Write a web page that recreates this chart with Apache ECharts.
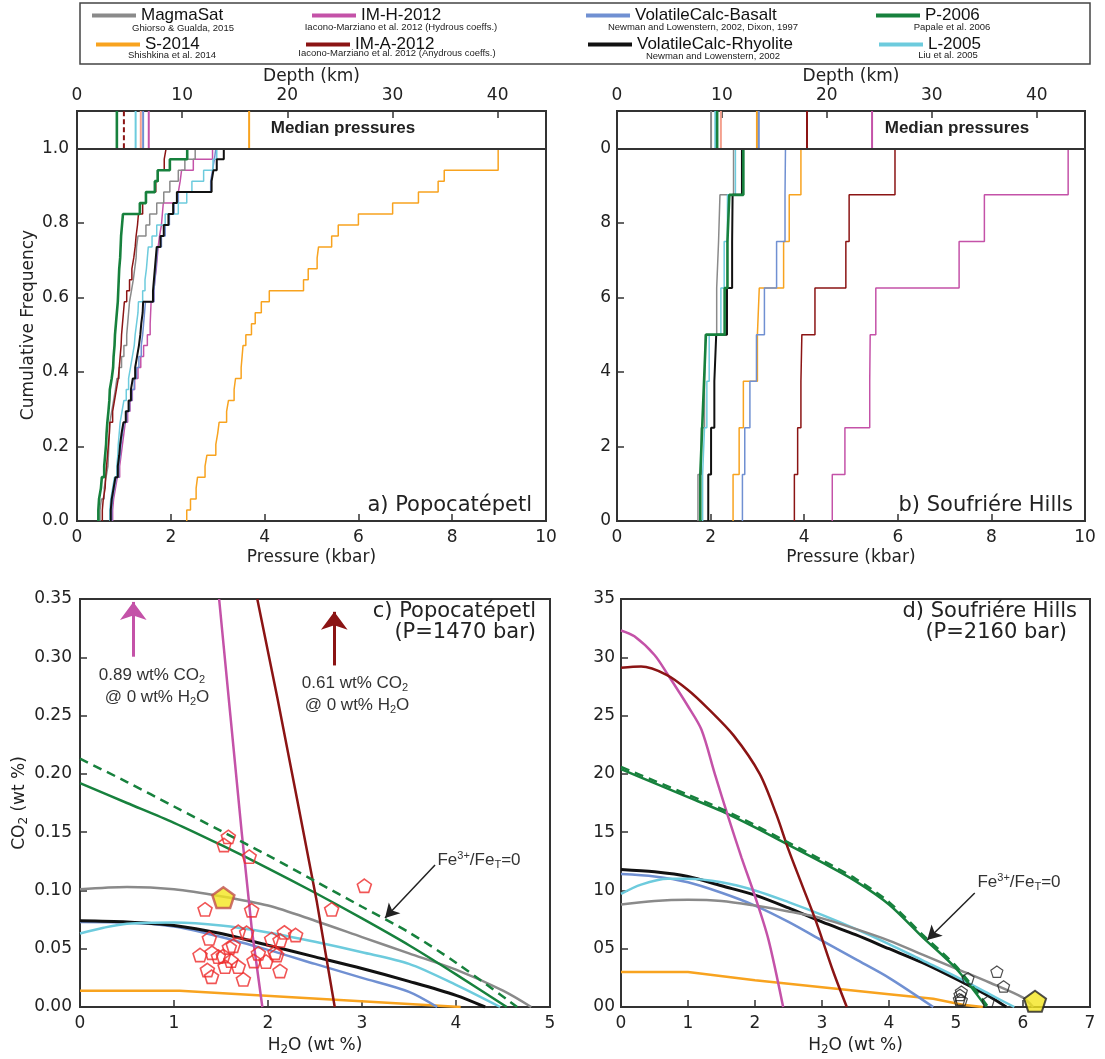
<!DOCTYPE html>
<html><head><meta charset="utf-8">
<script src="https://cdn.jsdelivr.net/npm/echarts/dist/echarts.min.js"></script>
<style>html,body{margin:0;padding:0;background:#fff}#c{width:1105px;height:1059px}</style>
</head><body><div id="c"></div>
<script>
// ---------------- DATA ----------------
const models = ['MagmaSat','IM-H-2012','VolatileCalc-Basalt','P-2006','S-2014','IM-A-2012','VolatileCalc-Rhyolite','L-2005'];
const citations = ['Ghiorso & Gualda, 2015','Iacono-Marziano et al. 2012 (Hydrous coeffs.)','Newman and Lowenstern, 2002, Dixon, 1997','Papale et al. 2006','Shishkina et al. 2014','Iacono-Marziano et al. 2012 (Anydrous coeffs.)','Newman and Lowenstern, 2002','Liu et al. 2005'];
const modelColors = ['#8a8a8a','#c452a8','#7090d2','#17813d','#f8a31f','#8b1414','#111111','#6dcbdd'];

// Panel a: Popocatepetl saturation pressures (kbar), sorted, 34 inclusions
const popoMagmaSat = [0.49,0.52,0.58,0.62,0.66,0.67,0.68,0.69,0.70,0.74,0.78,0.82,0.85,0.90,0.95,1.00,1.06,1.08,1.10,1.12,1.16,1.20,1.23,1.26,1.27,1.30,1.47,1.55,1.70,1.85,1.98,2.16,2.30,2.52];
const popoIMH = [0.76,0.78,0.82,0.86,0.91,0.94,0.97,1.00,1.03,1.08,1.13,1.18,1.23,1.30,1.36,1.42,1.50,1.56,1.57,1.58,1.64,1.66,1.69,1.71,1.73,1.76,1.80,1.82,1.84,2.16,2.20,2.23,2.48,2.89];
const popoVCBasalt = [0.74,0.76,0.80,0.84,0.89,0.92,0.94,0.97,1.01,1.06,1.12,1.17,1.22,1.27,1.32,1.37,1.40,1.42,1.44,1.46,1.64,1.66,1.68,1.70,1.72,1.80,1.88,1.97,2.07,2.16,2.85,2.89,2.93,2.96];
const popoP2006 = [0.455,0.47,0.51,0.53,0.58,0.60,0.62,0.63,0.647,0.67,0.69,0.70,0.74,0.77,0.78,0.80,0.81,0.83,0.85,0.87,0.88,0.89,0.90,0.92,0.93,0.94,0.96,0.98,1.34,1.47,1.66,1.72,1.98,2.35];
const popoS2014 = [2.34,2.42,2.54,2.57,2.73,2.77,2.96,3.00,3.03,3.19,3.23,3.35,3.38,3.50,3.52,3.54,3.60,3.72,3.80,3.93,4.10,4.83,4.93,5.12,5.15,5.43,5.57,6.00,6.73,7.28,7.70,7.83,8.98,8.98];
const popoIMA = [0.54,0.56,0.60,0.61,0.63,0.65,0.67,0.69,0.70,0.76,0.80,0.84,0.88,0.90,0.92,0.94,0.95,0.97,0.99,1.01,1.06,1.12,1.17,1.21,1.24,1.26,1.29,1.31,1.40,1.47,1.68,1.73,1.86,1.90];
const popoVCRhyolite = [0.72,0.74,0.78,0.82,0.87,0.90,0.92,0.95,0.99,1.04,1.10,1.15,1.19,1.24,1.28,1.32,1.35,1.37,1.40,1.41,1.62,1.64,1.66,1.68,1.70,1.78,1.85,1.95,2.05,2.13,2.87,2.91,2.98,3.13];
const popoL2005 = [0.70,0.72,0.76,0.80,0.85,0.87,0.88,0.90,0.92,0.96,1.00,1.05,1.10,1.14,1.18,1.22,1.24,1.27,1.30,1.31,1.40,1.45,1.48,1.50,1.52,1.60,1.70,1.88,2.16,2.34,2.45,2.70,2.90,2.98];

// Panel b: Soufriere Hills saturation pressures (kbar), sorted, 8 inclusions
const soufMagmaSat = [1.73,1.80,1.87,1.89,2.13,2.17,2.20,2.49];
const soufIMH = [4.60,4.87,5.40,5.41,5.53,7.31,7.85,9.64];
const soufVCBasalt = [2.68,2.73,2.84,2.98,3.15,3.41,3.59,3.60];
const soufP2006 = [1.78,1.82,1.86,1.90,2.30,2.36,2.40,2.70];
const soufS2014 = [2.48,2.61,2.70,3.00,3.04,3.56,3.68,3.93];
const soufIMA = [3.79,3.86,3.93,3.95,4.23,4.89,4.96,5.94];
const soufVCRhyolite = [1.95,2.01,2.08,2.12,2.35,2.46,2.47,2.67];
const soufL2005 = [1.83,1.87,1.92,1.97,2.22,2.29,2.36,2.53];

// Median pressures (kbar) shown in the top strips
const medianPopoModels = ['P-2006','IM-A-2012','L-2005','VolatileCalc-Rhyolite','VolatileCalc-Basalt','IM-H-2012','S-2014'];
const medianPopoValues = [0.85,1.00,1.25,1.36,1.41,1.53,3.67];
const medianSoufModels = ['MagmaSat','L-2005','P-2006','VolatileCalc-Rhyolite','S-2014','VolatileCalc-Basalt','IM-A-2012','IM-H-2012'];
const medianSoufValues = [2.01,2.10,2.14,2.22,2.99,3.03,4.06,5.45];

// Panel c: isobars at 1470 bar, [H2O wt%, CO2 wt%]
const popoIsoMagmaSat = [[0,0.101],[0.5,0.103],[1,0.101],[1.5,0.095],[2,0.087],[2.5,0.074],[3,0.060],[3.5,0.046],[4,0.032],[4.5,0.014],[4.8,0]];
const popoIsoIMH = [[1.48,0.35],[1.60,0.25],[1.72,0.15],[1.83,0.065],[1.94,0]];
const popoIsoVCBasalt = [[0,0.073],[0.5,0.0725],[1,0.069],[1.5,0.060],[2,0.049],[2.5,0.037],[3,0.025],[3.5,0.013],[3.8,0]];
const popoIsoP2006 = [[0,0.192],[0.5,0.175],[1,0.158],[1.5,0.139],[2,0.119],[2.5,0.098],[3,0.076],[3.5,0.053],[4,0.028],[4.54,0]];
const popoIsoP2006Fe0 = [[0,0.213],[0.5,0.193],[1,0.172],[1.5,0.151],[2,0.130],[2.5,0.108],[3,0.086],[3.5,0.064],[4,0.038],[4.65,0]];
const popoIsoS2014 = [[0,0.014],[1.06,0.014],[4.05,0]];
const popoIsoIMA = [[1.886,0.35],[2.10,0.265],[2.31,0.178],[2.52,0.09],[2.71,0]];
const popoIsoVCRhyolite = [[0,0.074],[0.5,0.073],[1,0.070],[1.5,0.063],[2,0.053],[2.5,0.043],[3,0.033],[3.5,0.022],[4,0.010],[4.31,0]];
const popoIsoL2005 = [[0,0.063],[0.25,0.068],[0.5,0.0715],[1,0.0725],[1.5,0.070],[2,0.064],[2.5,0.056],[3,0.047],[3.5,0.037],[4,0.019],[4.47,0]];
const popoMeltH2O = [1.578,1.532,1.80,3.025,2.677,1.826,1.33,1.684,1.773,1.376,2.174,2.294,2.039,2.128,1.63,1.589,1.277,1.404,1.472,1.525,1.606,1.897,2.074,2.092,1.543,1.684,1.851,1.979,1.355,1.40,1.738,2.128];
const popoMeltCO2 = [0.146,0.139,0.129,0.104,0.0838,0.083,0.0838,0.0646,0.0637,0.0589,0.064,0.0618,0.0583,0.0572,0.0526,0.0511,0.0446,0.0466,0.0432,0.0438,0.0398,0.046,0.0466,0.0446,0.0346,0.0346,0.0395,0.039,0.0318,0.026,0.0237,0.0309];
const popoMedianMI = [1.525,0.0938];

// Panel d: isobars at 2160 bar
const soufIsoMagmaSat = [[0,0.088],[0.5,0.091],[1,0.092],[1.5,0.091],[2,0.087],[2.5,0.082],[3,0.076],[3.5,0.067],[4,0.057],[4.5,0.045],[5,0.033],[5.5,0.021],[6,0.008],[6.15,0]];
const soufIsoIMH = [[0,0.323],[0.2,0.318],[0.5,0.302],[0.7,0.285],[1.0,0.258],[1.2,0.238],[1.4,0.200],[1.6,0.163],[1.8,0.128],[2.0,0.095],[2.2,0.058],[2.42,0]];
const soufIsoVCBasalt = [[0,0.114],[0.5,0.112],[1,0.107],[1.5,0.098],[2,0.087],[2.5,0.073],[3,0.057],[3.5,0.041],[4,0.025],[4.66,0]];
const soufIsoP2006 = [[0,0.204],[0.5,0.192],[1,0.180],[1.5,0.168],[2,0.154],[2.5,0.139],[3,0.124],[3.5,0.108],[4,0.088],[4.5,0.060],[5,0.033],[5.45,0]];
const soufIsoP2006Fe0 = [[0,0.206],[0.5,0.194],[1,0.182],[1.5,0.170],[2,0.156],[2.5,0.141],[3,0.126],[3.5,0.110],[4,0.090],[4.5,0.062],[5,0.035],[5.48,0]];
const soufIsoS2014 = [[0,0.030],[1,0.030],[2,0.023],[3,0.017],[4,0.011],[4.66,0.007],[5.1,0.002],[5.4,0]];
const soufIsoIMA = [[0,0.291],[0.3,0.292],[0.68,0.285],[1.0,0.272],[1.3,0.256],[1.68,0.233],[2.07,0.200],[2.32,0.165],[2.5,0.135],[2.7,0.105],[2.92,0.072],[3.17,0.030],[3.37,0]];
const soufIsoVCRhyolite = [[0,0.118],[0.5,0.116],[1,0.112],[1.5,0.104],[2,0.096],[2.5,0.085],[3,0.073],[3.5,0.062],[4,0.050],[4.5,0.038],[5,0.024],[5.5,0.009],[5.75,0]];
const soufIsoL2005 = [[0,0.097],[0.3,0.105],[0.7,0.110],[1,0.110],[1.5,0.107],[2,0.100],[2.5,0.090],[3,0.079],[3.5,0.067],[4,0.054],[4.5,0.040],[5,0.026],[5.5,0.011],[5.87,0]];
const soufMeltH2O = [5.61,5.71,5.18,5.08,5.06,5.05,5.08,5.48];
const soufMeltCO2 = [0.0303,0.0177,0.0246,0.0132,0.0104,0.0066,0.006,0.0046];
const soufMedianMI = [6.18,0.005];

// Axis tick values
const pressureTicks = [0,2,4,6,8,10];
const depthTicks = [0,10,20,30,40];
const freqTicks = [0,0.2,0.4,0.6,0.8,1.0];

// ---------------- CHART ----------------
const FONT = "'DejaVu Sans', sans-serif";
const ARIAL = "'Liberation Sans', Arial, sans-serif";
const NARROW = "'Liberation Sans Narrow', 'Liberation Sans', Arial, sans-serif";
const colorOf = m => modelColors[models.indexOf(m)];
const AX = '#333';

const chart = echarts.init(document.getElementById('c'), null, {renderer:'canvas', width:1105, height:1059});

function baseAxis(extra){
  return Object.assign({
    type:'value', axisLine:{show:false},
    axisTick:{show:true, inside:true, length:7, lineStyle:{color:AX, width:1.5}},
    splitLine:{show:false},
    axisLabel:{color:'#222', fontSize:17, fontFamily:FONT, margin:8},
    nameTextStyle:{color:'#222', fontSize:17, fontFamily:FONT}
  }, extra);
}
const richD = {n:{fontSize:17,fontFamily:FONT,color:'#222'}, sub:{fontSize:12,fontFamily:FONT,color:'#222',padding:[9,0,0,0]}};

const grids = [
  {left:77, top:111, width:469, height:410},
  {left:617, top:111, width:468, height:410},
  {left:80, top:599, width:470, height:408},
  {left:621, top:599, width:469, height:408}
].map(g => Object.assign(g, {show:true, borderColor:AX, borderWidth:2, backgroundColor:'transparent', containLabel:false}));

const pMax = pressureTicks[pressureTicks.length-1];
const depthMax = 44.6;
const xAxes = [
  baseAxis({gridIndex:0, min:0, max:pMax, interval:2, name:'Pressure (kbar)', nameLocation:'middle', nameGap:28}),
  baseAxis({gridIndex:0, position:'top', min:0, max:depthMax, interval:10, name:'Depth (km)', nameLocation:'middle', nameGap:26,
            axisLabel:{color:'#222', fontSize:17, fontFamily:FONT, margin:7, formatter:v => depthTicks.includes(v) ? String(v) : ''}}),
  baseAxis({gridIndex:1, min:0, max:pMax, interval:2, name:'Pressure (kbar)', nameLocation:'middle', nameGap:28}),
  baseAxis({gridIndex:1, position:'top', min:0, max:depthMax, interval:10, name:'Depth (km)', nameLocation:'middle', nameGap:26,
            axisLabel:{color:'#222', fontSize:17, fontFamily:FONT, margin:7, formatter:v => depthTicks.includes(v) ? String(v) : ''}}),
  baseAxis({gridIndex:2, min:0, max:5, interval:1, name:'{n|H}{sub|2}{n|O (wt %)}', nameLocation:'middle', nameGap:28,
            nameTextStyle:{rich:richD}}),
  baseAxis({gridIndex:3, min:0, max:7, interval:1, name:'{n|H}{sub|2}{n|O (wt %)}', nameLocation:'middle', nameGap:28,
            nameTextStyle:{rich:richD}})
];
const yAxes = [
  baseAxis({gridIndex:0, min:0, max:1.1, interval:0.2, name:'Cumulative Frequency', nameLocation:'middle', nameGap:40,
            nameTextStyle:{color:'#222', fontSize:17, fontFamily:FONT, padding:[0,18,0,0]},
            axisLabel:{color:'#222', fontSize:17, fontFamily:FONT, margin:8, formatter:v => v > 1.01 ? '' : v.toFixed(1)}}),
  baseAxis({gridIndex:1, min:0, max:1.1, interval:0.2,
            axisLabel:{color:'#222', fontSize:17, fontFamily:FONT, margin:6, formatter:v => v > 1.01 ? '' : v.toFixed(1).slice(-1)}}),
  baseAxis({gridIndex:2, min:0, max:0.35, interval:0.05, name:'{n|CO}{sub|2}{n| (wt %)}', nameLocation:'middle', nameGap:50,
            nameTextStyle:{rich:richD},
            axisLabel:{color:'#222', fontSize:17, fontFamily:FONT, margin:8, formatter:v => v.toFixed(2)}}),
  baseAxis({gridIndex:3, min:0, max:0.35, interval:0.05,
            axisLabel:{color:'#222', fontSize:17, fontFamily:FONT, margin:6, formatter:v => v.toFixed(2).slice(-2)}})
];

const series = [];
function cdf(arr){ const n = arr.length; const d = [[arr[0],0]]; arr.forEach((v,i)=>d.push([v,(i+1)/n])); return d; }
function widthAB(m){ return m==='P-2006' ? 2.6 : (m==='VolatileCalc-Rhyolite' ? 2 : 1.5); }

const popoSets = {'MagmaSat':popoMagmaSat,'IM-H-2012':popoIMH,'VolatileCalc-Basalt':popoVCBasalt,'P-2006':popoP2006,'S-2014':popoS2014,'IM-A-2012':popoIMA,'VolatileCalc-Rhyolite':popoVCRhyolite,'L-2005':popoL2005};
const soufSets = {'MagmaSat':soufMagmaSat,'IM-H-2012':soufIMH,'VolatileCalc-Basalt':soufVCBasalt,'P-2006':soufP2006,'S-2014':soufS2014,'IM-A-2012':soufIMA,'VolatileCalc-Rhyolite':soufVCRhyolite,'L-2005':soufL2005};
const drawOrder = ['S-2014','IM-H-2012','VolatileCalc-Basalt','MagmaSat','L-2005','VolatileCalc-Rhyolite','IM-A-2012','P-2006'];

[[popoSets,0],[soufSets,1]].forEach(([sets,gi])=>{
  drawOrder.forEach(m=>{
    const s = {type:'line', name:m, xAxisIndex:gi*2, yAxisIndex:gi, data:cdf(sets[m]), step:'end',
      showSymbol:false, symbol:'none', color:colorOf(m), lineStyle:{color:colorOf(m), width:widthAB(m)}, z:3};
    if (m==='S-2014') {
      s.markLine = {silent:true, symbol:['none','none'], label:{show:false}, animation:false,
        lineStyle:{color:AX, width:2, type:'solid'}, data:[{yAxis:1}]};
    }
    series.push(s);
  });
});

// median strips
function medianSeries(ms, vs, gi){
  ms.forEach((m,i)=>{
    const v = vs[i];
    let col = colorOf(m), type = 'solid';
    if (m==='VolatileCalc-Rhyolite') col = '#f4a08e';
    if (gi===0 && m==='IM-A-2012') type = [5,3];
    series.push({type:'line', name:m+' median', xAxisIndex:gi*2, yAxisIndex:gi, data:[[v,1.0],[v,1.1]],
      showSymbol:false, symbol:'none', lineStyle:{color:col, width: m==='P-2006' ? 2.6 : 2, type}, z:4});
  });
}
medianSeries(medianPopoModels, medianPopoValues, 0);
medianSeries(medianSoufModels, medianSoufValues, 1);

// isobars
const popoIso = {'MagmaSat':popoIsoMagmaSat,'IM-H-2012':popoIsoIMH,'VolatileCalc-Basalt':popoIsoVCBasalt,'P-2006':popoIsoP2006,'S-2014':popoIsoS2014,'IM-A-2012':popoIsoIMA,'VolatileCalc-Rhyolite':popoIsoVCRhyolite,'L-2005':popoIsoL2005};
const soufIso = {'MagmaSat':soufIsoMagmaSat,'IM-H-2012':soufIsoIMH,'VolatileCalc-Basalt':soufIsoVCBasalt,'P-2006':soufIsoP2006,'S-2014':soufIsoS2014,'IM-A-2012':soufIsoIMA,'VolatileCalc-Rhyolite':soufIsoVCRhyolite,'L-2005':soufIsoL2005};
const isoOrder = ['S-2014','VolatileCalc-Basalt','VolatileCalc-Rhyolite','L-2005','MagmaSat','P-2006','IM-H-2012','IM-A-2012'];
const pentagon = 'path://M0,-1 L0.951,-0.309 L0.588,0.809 L-0.588,0.809 L-0.951,-0.309 Z';

function smoothFor(m, gi){
  if (m==='S-2014') return false;
  if (gi===2 && (m==='IM-H-2012' || m==='IM-A-2012')) return false;
  return 0.3;
}
[[popoIso,popoIsoP2006Fe0,2],[soufIso,soufIsoP2006Fe0,3]].forEach(([iso,fe0,gi])=>{
  isoOrder.forEach(m=>{
    series.push({type:'line', name:m, xAxisIndex:gi+2, yAxisIndex:gi, data:iso[m],
      smooth: smoothFor(m, gi),
      showSymbol:false, symbol:'none', color:colorOf(m),
      lineStyle:{color:colorOf(m), width: m==='VolatileCalc-Rhyolite' ? 3 : 2.5}, z:3});
  });
  series.push({type:'line', name:'P-2006 (Fe3+/FeT=0)', xAxisIndex:gi+2, yAxisIndex:gi, data:fe0,
    smooth:0.3, showSymbol:false, symbol:'none',
    lineStyle:{color:colorOf('P-2006'), width:2.5, type:[9,6]}, z:3});
});

// melt inclusions
series.push({type:'scatter', name:'Popocatépetl melt inclusions', xAxisIndex:4, yAxisIndex:2,
  data:popoMeltH2O.map((h,i)=>[h,popoMeltCO2[i]]), symbol:pentagon, symbolSize:14, symbolKeepAspect:true,
  itemStyle:{color:'rgba(255,255,255,0)', borderColor:'#ee2a2a', borderWidth:1.6}, z:5});
series.push({type:'scatter', name:'Popocatépetl median inclusion', xAxisIndex:4, yAxisIndex:2,
  data:[popoMedianMI], symbol:pentagon, symbolSize:22, symbolKeepAspect:true,
  itemStyle:{color:'#f4e61e', borderColor:'#c0504d', borderWidth:2.5}, z:6});
series.push({type:'scatter', name:'Soufrière Hills melt inclusions', xAxisIndex:5, yAxisIndex:3,
  data:soufMeltH2O.map((h,i)=>[h,soufMeltCO2[i]]), symbol:pentagon, symbolSize:12, symbolKeepAspect:true,
  itemStyle:{color:'rgba(255,255,255,0)', borderColor:'#222', borderWidth:1.2}, z:5});
series.push({type:'scatter', name:'Soufrière Hills median inclusion', xAxisIndex:5, yAxisIndex:3,
  data:[soufMedianMI], symbol:pentagon, symbolSize:22, symbolKeepAspect:true,
  itemStyle:{color:'#f4e61e', borderColor:'#222', borderWidth:2}, z:6});

// annotation arrows (data coordinates)
function arrow(from, to, color, width, size){
  return [{coord:from, symbol:'none', lineStyle:{color, width, type:'solid'}, itemStyle:{color}},
          {coord:to, symbol:'arrow', symbolSize:size, lineStyle:{color, width, type:'solid'}, itemStyle:{color}}];
}
series.push({type:'line', name:'annotations c', xAxisIndex:4, yAxisIndex:2, data:[], showSymbol:false,
  markLine:{silent:true, animation:false, label:{show:false}, symbol:['none','arrow'],
    data:[
      arrow([0.567,0.3005],[0.567,0.3475],colorOf('IM-H-2012'),3,[20,18]),
      arrow([2.705,0.293],[2.705,0.339],colorOf('IM-A-2012'),3,[20,18]),
      arrow([3.777,0.1218],[3.245,0.0763],'#222',1.5,[12,14])
    ]}});
series.push({type:'line', name:'annotations d', xAxisIndex:5, yAxisIndex:3, data:[], showSymbol:false,
  markLine:{silent:true, animation:false, label:{show:false}, symbol:['none','arrow'],
    data:[ arrow([5.28,0.0978],[4.57,0.0575],'#222',1.5,[12,14]) ]}});

// legends
const legendPos = {'MagmaSat':[92,7],'S-2014':[96,36],'IM-H-2012':[312,7],'IM-A-2012':[306,36],
  'VolatileCalc-Basalt':[586,7],'VolatileCalc-Rhyolite':[588,36],'P-2006':[876,7],'L-2005':[879,36]};
const legends = models.map(m=>({show:true, data:[m], left:legendPos[m][0], top:legendPos[m][1], padding:0,
  itemWidth:44, itemHeight:4, icon:'rect', selectedMode:false,
  textStyle:{fontSize:17, fontFamily:NARROW, color:'#111'}}));

// graphic texts
const citePos = {'MagmaSat':[183,28],'S-2014':[172,55],'IM-H-2012':[401,27],'IM-A-2012':[397,53],
  'VolatileCalc-Basalt':[703,27],'VolatileCalc-Rhyolite':[713,56],'P-2006':[952,27],'L-2005':[948,55]};
function txt(x,y,text,font,align,extra){
  return {type:'text', x, y, z:100, silent:true,
    style:Object.assign({text, font, fill:'#222', textAlign:align, align:align, textVerticalAlign:'middle', verticalAlign:'middle'}, extra||{})};
}
const richA = {n:{fontSize:17,fontFamily:ARIAL,fill:'#333',color:'#333'}, sub:{fontSize:11,fontFamily:ARIAL,fill:'#333',color:'#333',padding:[9,0,0,0]}, sup:{fontSize:11,fontFamily:ARIAL,fill:'#333',color:'#333',padding:[0,0,8,0]}};
const elements = [
  {type:'rect', shape:{x:80,y:3,width:1010,height:61}, style:{fill:'none', stroke:'#444', lineWidth:1.5}, z:100, silent:true}
];
models.forEach((m,i)=>elements.push(txt(citePos[m][0], citePos[m][1], citations[i], "9.5px "+NARROW, 'center', {fill:'#222'})));
elements.push(txt(343,128,'Median pressures',"bold 17px "+ARIAL,'center'));
elements.push(txt(957,128,'Median pressures',"bold 17px "+ARIAL,'center'));
elements.push(txt(532,506,'a) Popocatépetl',"21px "+FONT,'right'));
elements.push(txt(1073,506,'b) Soufriére Hills',"21px "+FONT,'right'));
elements.push(txt(536,612,'c) Popocatépetl',"21px "+FONT,'right'));
elements.push(txt(536,633,'(P=1470 bar)',"21px "+FONT,'right'));
elements.push(txt(1077,612,'d) Soufriére Hills',"21px "+FONT,'right'));
elements.push(txt(1067,633,'(P=2160 bar)',"21px "+FONT,'right'));
function richTxt(x,y,text){ return {type:'text', x, y, z:100, silent:true,
  style:{text, rich:richA, textAlign:'center', align:'center', textVerticalAlign:'middle', verticalAlign:'middle', fill:'#333'}}; }
elements.push(richTxt(152,675,'{n|0.89 wt% CO}{sub|2}'));
elements.push(richTxt(157,697,'{n|@ 0 wt% H}{sub|2}{n|O}'));
elements.push(richTxt(355,683,'{n|0.61 wt% CO}{sub|2}'));
elements.push(richTxt(357,705,'{n|@ 0 wt% H}{sub|2}{n|O}'));
elements.push(richTxt(479,860,'{n|Fe}{sup|3+}{n|/Fe}{sub|T}{n|=0}'));
elements.push(richTxt(1019,882,'{n|Fe}{sup|3+}{n|/Fe}{sub|T}{n|=0}'));

chart.setOption({
  animation:false, backgroundColor:'#fff',
  legend:legends, grid:grids, xAxis:xAxes, yAxis:yAxes, series,
  graphic:{elements}
});
</script></body></html>
